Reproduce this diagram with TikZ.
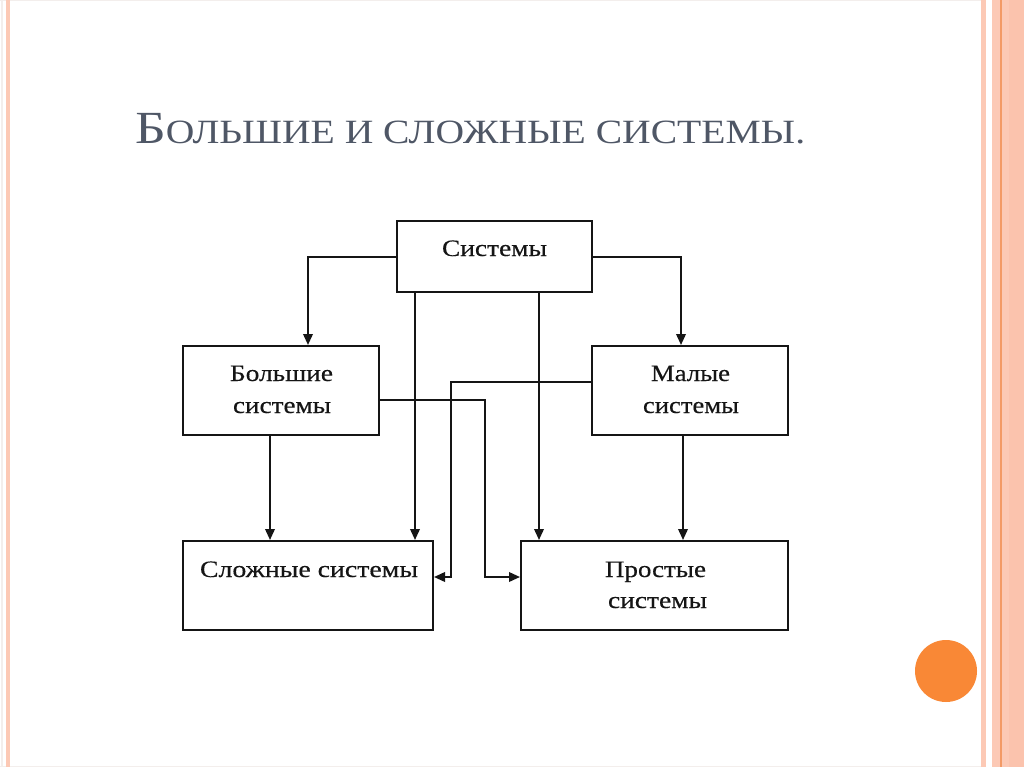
\documentclass[tikz,border=0pt]{standalone}
\usepackage{fontspec}
\setmainfont{Liberation Serif}
\newfontfamily\boxfont[FakeBold=0.3]{Liberation Serif}
\usetikzlibrary{arrows.meta}
\definecolor{salmon}{HTML}{FCC9B5}
\definecolor{salmonB}{HTML}{FBC3AD}
\definecolor{orangeline}{HTML}{F39A66}
\definecolor{dot}{HTML}{F98836}
\definecolor{titlegray}{HTML}{4F5766}
\definecolor{faint}{HTML}{F3EEEC}
\definecolor{ink}{HTML}{151515}
\newcommand\fitw[2]{\resizebox{#1}{\height}{#2}}
\begin{document}
\begin{tikzpicture}[x=1pt,y=-1pt,
  box/.style={draw=ink,line width=2pt,minimum width=#1,inner sep=0pt},
  lbl/.style={anchor=base,inner sep=0pt,text=ink,font=\boxfont\fontsize{23.5}{23.5}\selectfont},
  arr/.style={draw=ink,line width=2pt,-{Triangle[length=11pt,width=9.5pt]}}]
\useasboundingbox (0,0) rectangle (1024,767);
\fill[white] (0,0) rectangle (1024,767);
% slide frame
\draw[faint,line width=1pt] (0,0.5) -- (981,0.5);
\draw[faint,line width=1pt] (0,766.5) -- (981,766.5);
\draw[faint,line width=2pt] (2,0) -- (2,767);
\fill[salmon] (6,0) rectangle (10,767);
\fill[salmon] (981,0) rectangle (985.5,767);
\fill[salmon] (992,0) rectangle (1024,767);
\fill[salmonB] (1009,0) rectangle (1024,767);
\draw[orangeline,line width=2pt] (1000.5,0) -- (1000.5,767);
\fill[dot] (946,671) circle (31);
% title
\node[anchor=base west,inner sep=0pt,text=titlegray] (title) at (135,143.5)
  {\fitw{670pt}{{\fontsize{46}{46}\selectfont Б}{\fontsize{34}{34}\selectfont ОЛЬШИЕ И СЛОЖНЫЕ СИСТЕМЫ.}}};
% boxes
\node[box=195pt,minimum height=71pt] (sys) at (494.5,256.5) {};
\node[box=196pt,minimum height=89pt] (big) at (281,390.5) {};
\node[box=196pt,minimum height=89pt] (mal) at (690,390.5) {};
\node[box=250pt,minimum height=89pt] (sl) at (308,585.5) {};
\node[box=267pt,minimum height=89pt] (pr) at (654.5,585.5) {};
% labels
\node[lbl] (t1) at (494.5,256) {\fitw{105pt}{Системы}};
\node[lbl] (t2) at (281.5,381) {\fitw{103pt}{Большие}};
\node[lbl] (t3) at (282,413) {\fitw{98pt}{системы}};
\node[lbl] (t4) at (690.5,381) {\fitw{79pt}{Малые}};
\node[lbl] (t5) at (691,413) {\fitw{96pt}{системы}};
\node[lbl] (t6) at (309,577) {\fitw{218pt}{Сложные системы}};
\node[lbl] (t7) at (655.5,577) {\fitw{101pt}{Простые}};
\node[lbl] (t8) at (657.5,608) {\fitw{99pt}{системы}};
% helper coordinates
\coordinate (k1) at (308,257);
\coordinate (k2) at (681,257);
\coordinate (k3) at (415,0);
\coordinate (k4) at (539,0);
\coordinate (k5) at (270,0);
\coordinate (k6) at (683,0);
\coordinate (k7) at (451,382);
\coordinate (k8) at (451,577);
\coordinate (k9) at (485,400);
\coordinate (k10) at (485,577);
% connectors
\draw[arr] (sys.west |- k1) -| (big.north -| k1);
\draw[arr] (sys.east |- k2) -| (mal.north -| k2);
\draw[arr] (sys.south -| k3) -- (sl.north -| k3);
\draw[arr] (sys.south -| k4) -- (pr.north -| k4);
\draw[arr] (big.south -| k5) -- (sl.north -| k5);
\draw[arr] (mal.south -| k6) -- (pr.north -| k6);
\draw[arr] (mal.west |- k7) -- (k7) -- (k8) -- (sl.east |- k8);
\draw[arr] (big.east |- k9) -- (k9) -- (k10) -- (pr.west |- k10);
\end{tikzpicture}
\end{document}
